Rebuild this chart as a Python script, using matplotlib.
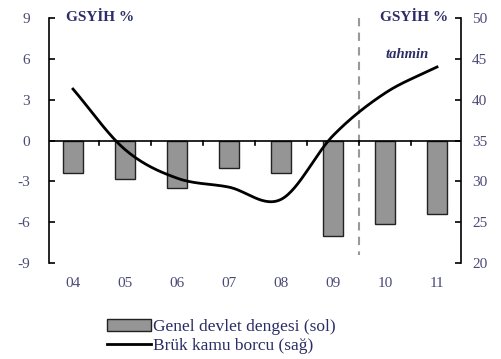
import numpy as np
import matplotlib.pyplot as plt
from matplotlib.patches import Patch
from matplotlib.lines import Line2D

years = ['04', '05', '06', '07', '08', '09', '10', '11']
balance = [-2.35, -2.8, -3.5, -2.0, -2.35, -7.0, -6.1, -5.4]   # sol eksen
debt = [41.3, 33.9, 30.4, 29.3, 27.8, 35.6, 40.8, 44.0]       # sağ eksen

navy = '#2b2d66'
tickc = '#4a4a78'
plt.rcParams['font.family'] = ['Liberation Serif', 'DejaVu Serif']
plt.rcParams['axes.unicode_minus'] = False


def smooth(xs, ys, n=30):
    # catmull-rom through the yearly points, for a soft curve
    xs = np.asarray(xs, float)
    ys = np.asarray(ys, float)
    px = np.concatenate([[2 * xs[0] - xs[1]], xs, [2 * xs[-1] - xs[-2]]])
    py = np.concatenate([[2 * ys[0] - ys[1]], ys, [2 * ys[-1] - ys[-2]]])
    ox, oy = [], []
    t = np.linspace(0, 1, n, endpoint=False)
    for i in range(1, len(px) - 2):
        for arr, out in ((px, ox), (py, oy)):
            p0, p1, p2, p3 = arr[i - 1:i + 3]
            out.extend(0.5 * (2 * p1 + (-p0 + p2) * t
                              + (2 * p0 - 5 * p1 + 4 * p2 - p3) * t ** 2
                              + (-p0 + 3 * p1 - 3 * p2 + p3) * t ** 3))
    ox.append(xs[-1])
    oy.append(ys[-1])
    return np.array(ox), np.array(oy)


fig = plt.figure(figsize=(5.01, 3.59), dpi=100)
ax = fig.add_axes([0.098, 0.267, 0.822, 0.683])
x = np.arange(len(years))

ax.bar(x, balance, width=0.38, color='#959595', edgecolor='#222222', linewidth=1.0, zorder=2)
ax.axhline(0, color='black', linewidth=1.2, zorder=3)
for m in x[:-1] + 0.5:
    ax.plot([m, m], [0, -0.3], color='black', linewidth=1.2, zorder=3)
ax.plot([5.5, 5.5], [9, -8.4], color='#999999', linewidth=1.5, dashes=(4, 3), zorder=1)

ax.set_xlim(-0.46, 7.46)
ax.set_ylim(-9, 9)
ax.set_yticks(range(-9, 10, 3))
ax.set_xticks(x)
ax.set_xticklabels(years)
ax.tick_params(axis='x', length=0, pad=10, labelsize=11, colors=tickc)
ax.tick_params(axis='y', direction='in', length=4, width=1.2, pad=14, labelsize=11, colors='black', labelcolor=tickc)
for s in ['top', 'bottom', 'right']:
    ax.spines[s].set_visible(False)
ax.spines['left'].set_linewidth(1.2)

ax2 = ax.twinx()
sx, sy = smooth(x, debt)
ax2.plot(sx, sy, color='black', linewidth=2.0, zorder=4)
ax2.set_ylim(20, 50)
ax2.set_yticks(range(20, 51, 5))
ax2.tick_params(axis='y', direction='in', length=4, width=1.2, pad=8, labelsize=11, colors='black', labelcolor=tickc)
for s in ['top', 'bottom', 'left']:
    ax2.spines[s].set_visible(False)
ax2.spines['right'].set_linewidth(1.2)

ax.text(0.04, 1.0, 'GSYİH %', transform=ax.transAxes, color=navy, fontsize=11,
        fontweight='bold', va='center', ha='left')
ax.text(0.968, 1.0, 'GSYİH %', transform=ax.transAxes, color=navy, fontsize=11,
        fontweight='bold', va='center', ha='right')
ax.text(6.42, 6.3, 'tahmin', color=navy, fontsize=10.5, fontstyle='italic',
        fontweight='bold', va='center', ha='center')

handles = [Patch(facecolor='#959595', edgecolor='#222222', linewidth=1.0),
           Line2D([0], [0], color='black', linewidth=2.0)]
fig.legend(handles, ['Genel devlet dengesi (sol)', 'Brük kamu borcu (sağ)'],
           loc='lower left', bbox_to_anchor=(0.19, -0.02), frameon=False, fontsize=12.5,
           labelcolor=navy, handlelength=2.5, handletextpad=0.15, labelspacing=0.15,
           borderpad=0.2)

fig.savefig('out.png', dpi=100)
